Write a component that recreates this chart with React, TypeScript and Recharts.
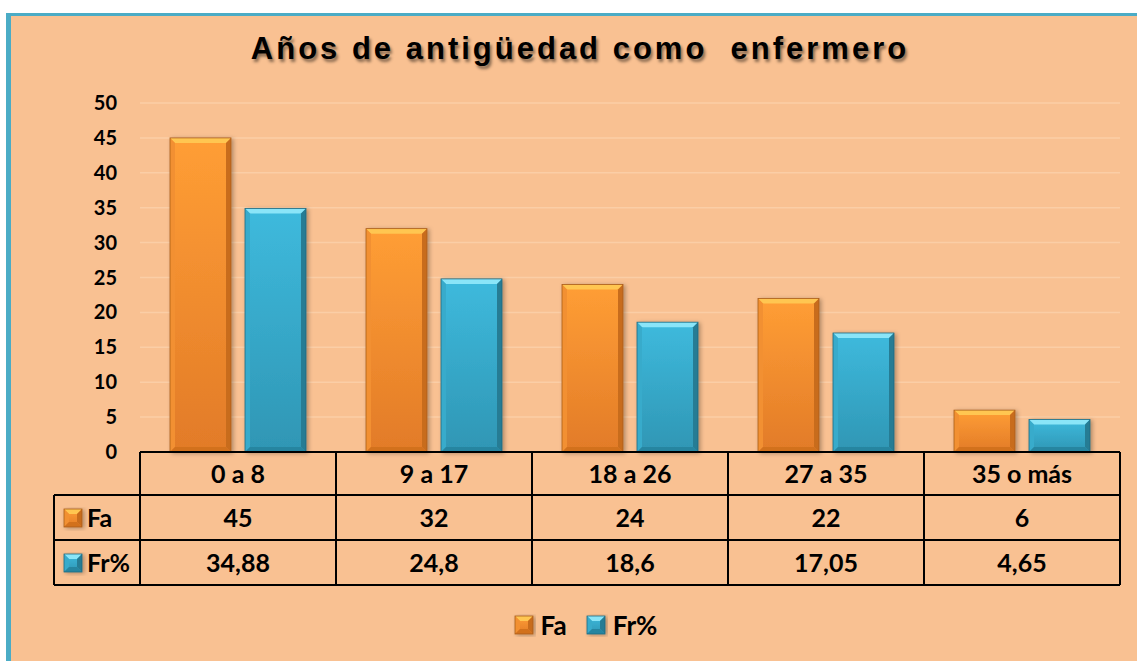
import { BarChart, Bar, XAxis, YAxis, CartesianGrid } from "recharts"

const CATEGORIES = ["0 a 8", "9 a 17", "18 a 26", "27 a 35", "35 o más"]
const FA = [45, 32, 24, 22, 6]
const FR = [34.88, 24.8, 18.6, 17.05, 4.65]
const FR_LABELS = ["34,88", "24,8", "18,6", "17,05", "4,65"]
const Y_TICKS = [0, 5, 10, 15, 20, 25, 30, 35, 40, 45, 50]
const SERIES = [
  { key: "fa", name: "Fa" },
  { key: "fr", name: "Fr%" },
]

const data = CATEGORIES.map((cat, i) => ({ cat, fa: FA[i], fr: FR[i] }))

const W = 1137
const H = 661
const PLOT_LEFT = 140
const PLOT_RIGHT = 1120
const PLOT_TOP = 103
const PLOT_BOTTOM = 452
const CELL_W = (PLOT_RIGHT - PLOT_LEFT) / CATEGORIES.length
const ROW_H = [452, 495, 540, 585]
const LEGEND_COL = 54
const FONT = "Lato, 'Open Sans', sans-serif"

type Palette = {
  top: string
  bottom: string
  bevelTop: string
  bevelLeft: string
  bevelRight: string
  bevelBottom: string
  edge: string
}

const ORANGE: Palette = {
  top: "#FF9E35",
  bottom: "#E27B28",
  bevelTop: "#FFC651",
  bevelLeft: "#F29030",
  bevelRight: "#C86C1F",
  bevelBottom: "#D2711F",
  edge: "#A85C1B",
}

const BLUE: Palette = {
  top: "#3EBADD",
  bottom: "#2F96B4",
  bevelTop: "#8AE5F8",
  bevelLeft: "#39ABCB",
  bevelRight: "#257B94",
  bevelBottom: "#2885A0",
  edge: "#1F6A80",
}

function BevelBar(props: any) {
  const { x, y, width, height, palette, id } = props
  if (!height || height <= 0) return null
  const b = Math.min(5, height / 2)
  const w = width
  const h = height
  return (
    <g filter="url(#barShadow)">
      <defs>
        <linearGradient id={id} x1="0" y1="0" x2="0" y2="1">
          <stop offset="0%" stopColor={palette.top} />
          <stop offset="100%" stopColor={palette.bottom} />
        </linearGradient>
      </defs>
      <rect x={x} y={y} width={w} height={h} fill={`url(#${id})`} />
      <polygon
        points={`${x},${y} ${x + w},${y} ${x + w - b},${y + b} ${x + b},${y + b}`}
        fill={palette.bevelTop}
      />
      <polygon
        points={`${x},${y} ${x + b},${y + b} ${x + b},${y + h - b} ${x},${y + h}`}
        fill={palette.bevelLeft}
      />
      <polygon
        points={`${x + w},${y} ${x + w - b},${y + b} ${x + w - b},${y + h - b} ${x + w},${y + h}`}
        fill={palette.bevelRight}
      />
      <polygon
        points={`${x},${y + h} ${x + b},${y + h - b} ${x + w - b},${y + h - b} ${x + w},${y + h}`}
        fill={palette.bevelBottom}
      />
      <rect x={x} y={y} width={w} height={h} fill="none" stroke={palette.edge} strokeWidth={0.8} />
    </g>
  )
}

function LegendIcon({ x, y, palette }: { x: number; y: number; palette: Palette }) {
  return <BevelBar x={x} y={y} width={18} height={18} palette={palette} id={`icon-${palette.top.slice(1)}-${x}-${y}`} />
}

function YTick(props: any) {
  const { x, y, payload } = props
  return (
    <text x={x} y={y} dy={7} textAnchor="end" fontFamily={FONT} fontWeight={700} fontSize={20} fill="#000">
      {payload.value}
    </text>
  )
}

function TableTick(props: any) {
  const { x, payload, index } = props
  const i = index ?? payload.index
  const left = x - CELL_W / 2
  const right = x + CELL_W / 2
  const line = { stroke: "#000", strokeWidth: 2 }
  const txt = {
    fontFamily: FONT,
    fontWeight: 700,
    fontSize: 25,
    fill: "#000",
    textAnchor: "middle" as const,
  }
  const rowMid = (r: number) => (ROW_H[r] + ROW_H[r + 1]) / 2 + 9
  return (
    <g>
      {ROW_H.map((ry, r) => (
        <line key={r} x1={left} x2={right} y1={ry} y2={ry} {...line} />
      ))}
      <line x1={right} x2={right} y1={ROW_H[0]} y2={ROW_H[3]} {...line} />
      <text x={x} y={rowMid(0)} {...txt}>{payload.value}</text>
      <text x={x} y={rowMid(1)} {...txt}>{FA[i]}</text>
      <text x={x} y={rowMid(2)} {...txt}>{FR_LABELS[i]}</text>
      {i === 0 && (
        <g>
          <line x1={left} x2={left} y1={ROW_H[0]} y2={ROW_H[3]} {...line} />
          <line x1={LEGEND_COL} x2={left} y1={ROW_H[1]} y2={ROW_H[1]} {...line} />
          <line x1={LEGEND_COL} x2={left} y1={ROW_H[2]} y2={ROW_H[2]} {...line} />
          <line x1={LEGEND_COL} x2={left} y1={ROW_H[3]} y2={ROW_H[3]} {...line} />
          <line x1={LEGEND_COL} x2={LEGEND_COL} y1={ROW_H[1]} y2={ROW_H[3]} {...line} />
          {SERIES.map((s, r) => (
            <g key={s.key}>
              <LegendIcon x={LEGEND_COL + 10} y={ROW_H[r + 1] + 14} palette={r === 0 ? ORANGE : BLUE} />
              <text x={LEGEND_COL + 33} y={rowMid(r + 1)} {...txt} textAnchor="start">
                {s.name}
              </text>
            </g>
          ))}
        </g>
      )}
    </g>
  )
}

export default function App() {
  return (
    <div style={{ position: "fixed", left: 0, top: 0, width: W, height: H, overflow: "hidden", background: "#fff" }}>
      <div
        style={{
          position: "absolute",
          left: 6,
          top: 13,
          width: W,
          height: H,
          background: "#F9C192",
          borderLeft: "5px solid #4BACC6",
          borderTop: "3px solid #4BACC6",
        }}
      />
      <div
        style={{
          position: "absolute",
          left: 0,
          top: 31,
          width: 1160,
          textAlign: "center",
          whiteSpace: "pre",
          fontFamily: "'Liberation Sans', Arial, sans-serif",
          fontWeight: 700,
          fontSize: 31,
          letterSpacing: 3,
          color: "#000",
          textShadow: "2px 3px 3px rgba(0,0,0,0.45)",
        }}
      >
        Años de antigüedad como  enfermero
      </div>
      <div style={{ position: "absolute", left: 0, top: 0 }}>
        <BarChart
          width={W}
          height={H}
          data={data}
          margin={{ top: PLOT_TOP, right: W - PLOT_RIGHT, bottom: H - PLOT_BOTTOM - 60, left: PLOT_LEFT - 60 }}
          barSize={61}
          barGap={14}
        >
          <defs>
            <filter id="barShadow" x="-20%" y="-10%" width="150%" height="130%">
              <feDropShadow dx={2} dy={1} stdDeviation={2} floodColor="#000" floodOpacity={0.3} />
            </filter>
          </defs>
          <CartesianGrid vertical={false} stroke="#FBCEA6" strokeWidth={1.5} />
          <XAxis
            dataKey="cat"
            axisLine={false}
            tickLine={false}
            height={60}
            interval={0}
            tick={<TableTick />}
          />
          <YAxis
            domain={[0, 50]}
            ticks={Y_TICKS}
            axisLine={false}
            tickLine={false}
            tickMargin={17}
            width={60}
            tick={<YTick />}
            interval={0}
          />
          <Bar
            dataKey="fa"
            name="Fa"
            isAnimationActive={false}
            shape={(p: any) => <BevelBar {...p} palette={ORANGE} id={`fa-${p.index}`} />}
          />
          <Bar
            dataKey="fr"
            name="Fr%"
            isAnimationActive={false}
            shape={(p: any) => <BevelBar {...p} palette={BLUE} id={`fr-${p.index}`} />}
          />
        </BarChart>
      </div>
      <div
        style={{
          position: "absolute",
          left: 0,
          top: 609,
          width: 1170,
          display: "flex",
          justifyContent: "center",
          gap: 18,
          fontFamily: FONT,
          fontWeight: 700,
          fontSize: 26,
        }}
      >
        {SERIES.map((s, r) => (
          <div key={s.key} style={{ display: "flex", alignItems: "center", gap: 5 }}>
            <svg width={23} height={23}>
              <LegendIcon x={2} y={2} palette={r === 0 ? ORANGE : BLUE} />
            </svg>
            <span>{s.name}</span>
          </div>
        ))}
      </div>
    </div>
  )
}
